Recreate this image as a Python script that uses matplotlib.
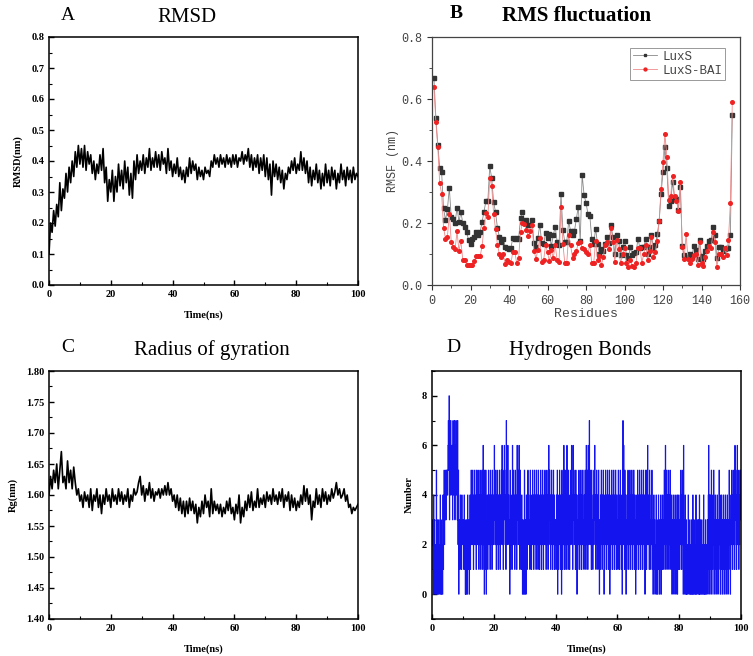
import numpy as np
import matplotlib
matplotlib.use("Agg")
import matplotlib.pyplot as plt
from matplotlib.ticker import MultipleLocator, FormatStrFormatter

## data

# A: RMSD (nm), one value every 0.5 ns from 0 to 100 ns
rmsd = [
    0.10, 0.20, 0.17, 0.24, 0.19, 0.26, 0.22, 0.33, 0.24, 0.31,
    0.28, 0.36, 0.30, 0.38, 0.33, 0.40, 0.35, 0.43, 0.38, 0.45,
    0.39, 0.44, 0.38, 0.45, 0.37, 0.43, 0.39, 0.42, 0.36, 0.40,
    0.34, 0.39, 0.36, 0.42, 0.37, 0.44, 0.33, 0.38, 0.27, 0.34,
    0.30, 0.37, 0.27, 0.35, 0.30, 0.39, 0.32, 0.37, 0.31, 0.40,
    0.33, 0.38, 0.29, 0.36, 0.28, 0.40, 0.34, 0.42, 0.36, 0.40,
    0.37, 0.42, 0.36, 0.41, 0.38, 0.44, 0.37, 0.41, 0.38, 0.43,
    0.38, 0.42, 0.37, 0.43, 0.39, 0.41, 0.36, 0.44, 0.37, 0.40,
    0.35, 0.39, 0.36, 0.41, 0.35, 0.38, 0.34, 0.37, 0.33, 0.38,
    0.35, 0.41, 0.36, 0.40, 0.37, 0.39, 0.34, 0.38, 0.35, 0.37,
    0.34, 0.38, 0.36, 0.37, 0.35, 0.40, 0.38, 0.42, 0.39, 0.41,
    0.38, 0.42, 0.39, 0.41, 0.38, 0.42, 0.39, 0.41, 0.38, 0.42,
    0.39, 0.42, 0.38, 0.41, 0.40, 0.43, 0.39, 0.42, 0.40, 0.44,
    0.38, 0.42, 0.37, 0.41, 0.38, 0.42, 0.36, 0.41, 0.37, 0.42,
    0.35, 0.41, 0.34, 0.39, 0.29, 0.40, 0.35, 0.39, 0.34, 0.38,
    0.33, 0.37, 0.31, 0.36, 0.34, 0.38, 0.36, 0.40, 0.37, 0.41,
    0.36, 0.39, 0.37, 0.43, 0.37, 0.41, 0.36, 0.40, 0.33, 0.38,
    0.32, 0.37, 0.34, 0.39, 0.33, 0.37, 0.31, 0.36, 0.32, 0.39,
    0.33, 0.37, 0.32, 0.38, 0.34, 0.37, 0.31, 0.36, 0.33, 0.39,
    0.34, 0.37, 0.32, 0.38, 0.34, 0.37, 0.33, 0.38, 0.34, 0.36,
    0.35,
]

# B: RMSF (nm) per residue 1..156
rmsf_luxs = [
    0.668, 0.540, 0.453, 0.379, 0.363, 0.248, 0.209, 0.244, 0.313, 0.218,
    0.212, 0.200, 0.250, 0.204, 0.235, 0.200, 0.186, 0.170, 0.145, 0.133,
    0.147, 0.156, 0.170, 0.160, 0.170, 0.203, 0.235, 0.270, 0.270, 0.383,
    0.345, 0.268, 0.235, 0.184, 0.156, 0.140, 0.150, 0.124, 0.118, 0.115,
    0.120, 0.152, 0.147, 0.152, 0.150, 0.216, 0.237, 0.203, 0.210, 0.192,
    0.193, 0.210, 0.134, 0.121, 0.152, 0.194, 0.136, 0.131, 0.169, 0.152,
    0.163, 0.126, 0.161, 0.188, 0.140, 0.128, 0.295, 0.177, 0.139, 0.140,
    0.205, 0.174, 0.161, 0.174, 0.214, 0.253, 0.141, 0.356, 0.290, 0.265,
    0.230, 0.222, 0.149, 0.132, 0.182, 0.131, 0.099, 0.115, 0.110, 0.131,
    0.155, 0.134, 0.192, 0.154, 0.101, 0.162, 0.142, 0.097, 0.124, 0.143,
    0.097, 0.086, 0.121, 0.098, 0.102, 0.105, 0.149, 0.120, 0.124, 0.122,
    0.149, 0.100, 0.121, 0.162, 0.118, 0.128, 0.163, 0.205, 0.295, 0.365,
    0.444, 0.376, 0.255, 0.272, 0.331, 0.280, 0.276, 0.243, 0.317, 0.127,
    0.096, 0.091, 0.089, 0.099, 0.091, 0.126, 0.114, 0.085, 0.145, 0.093,
    0.085, 0.110, 0.125, 0.143, 0.145, 0.188, 0.160, 0.086, 0.121, 0.124,
    0.110, 0.115, 0.118, 0.120, 0.160, 0.550,
]
rmsf_bai = [
    0.640, 0.527, 0.446, 0.328, 0.295, 0.185, 0.150, 0.155, 0.228, 0.140,
    0.123, 0.115, 0.173, 0.110, 0.142, 0.080, 0.082, 0.066, 0.065, 0.064,
    0.063, 0.078, 0.093, 0.094, 0.092, 0.125, 0.184, 0.233, 0.218, 0.345,
    0.320, 0.230, 0.180, 0.130, 0.100, 0.090, 0.100, 0.068, 0.080, 0.075,
    0.070, 0.108, 0.108, 0.070, 0.087, 0.172, 0.200, 0.198, 0.178, 0.158,
    0.174, 0.193, 0.110, 0.085, 0.112, 0.153, 0.075, 0.080, 0.130, 0.105,
    0.077, 0.112, 0.087, 0.130, 0.080, 0.075, 0.253, 0.133, 0.070, 0.072,
    0.160, 0.128, 0.088, 0.100, 0.110, 0.135, 0.140, 0.120, 0.115, 0.105,
    0.100, 0.130, 0.070, 0.070, 0.143, 0.080, 0.093, 0.065, 0.090, 0.130,
    0.140, 0.115, 0.185, 0.140, 0.075, 0.145, 0.115, 0.070, 0.100, 0.120,
    0.070, 0.058, 0.080, 0.060, 0.058, 0.070, 0.120, 0.120, 0.072, 0.100,
    0.130, 0.080, 0.110, 0.155, 0.090, 0.108, 0.143, 0.205, 0.310, 0.397,
    0.488, 0.413, 0.274, 0.288, 0.353, 0.286, 0.270, 0.240, 0.333, 0.122,
    0.085, 0.163, 0.085, 0.072, 0.085, 0.097, 0.100, 0.066, 0.140, 0.072,
    0.060, 0.090, 0.110, 0.125, 0.120, 0.170, 0.140, 0.058, 0.100, 0.100,
    0.090, 0.120, 0.098, 0.145, 0.265, 0.590,
]
residues = np.arange(1, len(rmsf_luxs) + 1)

# C: radius of gyration (nm), one value every 0.5 ns
rg = [
    1.600, 1.630, 1.610, 1.640, 1.620, 1.650, 1.610, 1.640, 1.670, 1.620,
    1.630, 1.610, 1.655, 1.620, 1.640, 1.610, 1.645, 1.620, 1.600, 1.610,
    1.590, 1.600, 1.580, 1.605, 1.590, 1.600, 1.580, 1.610, 1.575, 1.600,
    1.590, 1.610, 1.580, 1.600, 1.570, 1.600, 1.585, 1.610, 1.590, 1.600,
    1.580, 1.610, 1.590, 1.600, 1.585, 1.610, 1.590, 1.605, 1.585, 1.600,
    1.590, 1.610, 1.580, 1.600, 1.590, 1.610, 1.600, 1.605, 1.620, 1.630,
    1.600, 1.615, 1.590, 1.610, 1.600, 1.620, 1.595, 1.610, 1.590, 1.605,
    1.600, 1.610, 1.595, 1.610, 1.600, 1.615, 1.600, 1.620, 1.600, 1.610,
    1.590, 1.600, 1.580, 1.600, 1.575, 1.595, 1.570, 1.590, 1.565, 1.590,
    1.570, 1.595, 1.575, 1.590, 1.570, 1.585, 1.555, 1.580, 1.565, 1.590,
    1.570, 1.600, 1.580, 1.590, 1.565, 1.610, 1.570, 1.590, 1.575, 1.585,
    1.570, 1.585, 1.565, 1.580, 1.570, 1.590, 1.575, 1.595, 1.570, 1.580,
    1.560, 1.585, 1.570, 1.600, 1.555, 1.580, 1.565, 1.590, 1.575, 1.600,
    1.580, 1.605, 1.575, 1.590, 1.580, 1.610, 1.580, 1.595, 1.585, 1.600,
    1.580, 1.605, 1.590, 1.600, 1.585, 1.610, 1.590, 1.600, 1.585, 1.605,
    1.590, 1.610, 1.580, 1.600, 1.590, 1.605, 1.575, 1.600, 1.580, 1.595,
    1.575, 1.590, 1.580, 1.600, 1.585, 1.615, 1.590, 1.610, 1.585, 1.600,
    1.560, 1.590, 1.580, 1.610, 1.585, 1.600, 1.580, 1.610, 1.590, 1.605,
    1.585, 1.600, 1.590, 1.610, 1.595, 1.605, 1.620, 1.600, 1.610, 1.595,
    1.600, 1.610, 1.590, 1.600, 1.580, 1.585, 1.570, 1.580, 1.575, 1.580,
    1.585,
]

# D: number of hydrogen bonds, one value every 0.125 ns (each row = 5 ns)
hbond_rows = [
    "2310403120 1503201302 1403012041 3524353545",
    "4675836476 5463746573 6475437250 2314231423",
    "2314130203 1042130241 3524253142 5324153425",
    "3142531425 3162405315 0324135243 1524315342",
    "2635241352 3142531425 3625143652 4173526342",
    "3051423162 5243152431 6352463152 3142031025",
    "0310421352 4231524132 5241352431 5234152413",
    "2531425314 2352413524 1363524135 2413524132",
    "3142503142 5314205314 2631524136 2415231425",
    "3624163524 3152403142 5314253142 5231425316",
    "2531642735 2415231425 3624135241 3520314253",
    "1425301425 3142531425 0314253142 5314253142",
    "3152413524 1305726315 2403142531 4253142531",
    "4253142031 4253142531 4253142531 4025315263",
    "2415231425 3102413021 4031024130 2140312413",
    "2531625314 2531425314 2031420314 2031402413",
    "3142531425 0613041030 2104120310 2031040130",
    "2104021301 3040310230 1204102031 0213046140",
    "2415031425 0314203142 0315240314 2031420314",
    "2031420315 2401325314 2531635214 6253142535",
]
hbonds = [int(c) for row in hbond_rows for c in "".join(row.split())]

t_half = np.arange(len(rmsd)) * 0.5
t_hb = np.arange(len(hbonds)) * 0.125

## figure
W, H = 753, 656
fig = plt.figure(figsize=(W / 100, H / 100), dpi=100)


def box(left, top, right, bottom):
    return [left / W, 1 - bottom / H, (right - left) / W, (bottom - top) / H]


serif = "Liberation Serif"
mono = "Liberation Mono"


def md_style(ax, xlabel, ylabel):
    ax.tick_params(which="both", direction="in", top=False, right=False)
    ax.tick_params(which="major", length=3.5, width=1.0)
    ax.tick_params(which="minor", length=2, width=0.8)
    for s in ax.spines.values():
        s.set_linewidth(1.1)
    for lbl in ax.get_xticklabels() + ax.get_yticklabels():
        lbl.set_fontfamily(serif)
        lbl.set_fontweight("bold")
        lbl.set_fontsize(7.5)
    ax.set_xlabel(xlabel, fontfamily=serif, fontweight="bold", fontsize=7.5, labelpad=8)
    ax.set_ylabel(ylabel, fontfamily=serif, fontweight="bold", fontsize=7.5, labelpad=6)


# A
axA = fig.add_axes(box(49, 37, 358, 285))
axA.plot(t_half, rmsd, color="black", lw=1.2)
axA.set_xlim(0, 100)
axA.set_ylim(0, 0.8)
axA.xaxis.set_major_locator(MultipleLocator(20))
axA.xaxis.set_minor_locator(MultipleLocator(10))
axA.yaxis.set_major_locator(MultipleLocator(0.1))
axA.yaxis.set_minor_locator(MultipleLocator(0.05))
axA.yaxis.set_major_formatter(FormatStrFormatter("%.1f"))
md_style(axA, "Time(ns)", "RMSD(nm)")

# C
axC = fig.add_axes(box(49, 371, 358, 619))
axC.plot(t_half, rg, color="black", lw=1.2)
axC.set_xlim(0, 100)
axC.set_ylim(1.40, 1.80)
axC.xaxis.set_major_locator(MultipleLocator(20))
axC.xaxis.set_minor_locator(MultipleLocator(10))
axC.yaxis.set_major_locator(MultipleLocator(0.05))
axC.yaxis.set_minor_locator(MultipleLocator(0.025))
axC.yaxis.set_major_formatter(FormatStrFormatter("%.2f"))
md_style(axC, "Time(ns)", "Rg(nm)")

# D
axD = fig.add_axes(box(432, 371, 741, 619))
axD.plot(t_hb, hbonds, color="#1414ee", lw=0.7, drawstyle="steps-post")
axD.set_xlim(0, 100)
axD.set_ylim(-1, 9)
axD.xaxis.set_major_locator(MultipleLocator(20))
axD.xaxis.set_minor_locator(MultipleLocator(10))
axD.yaxis.set_major_locator(MultipleLocator(2))
axD.yaxis.set_minor_locator(MultipleLocator(1))
md_style(axD, "Time(ns)", "Number")

# B
axB = fig.add_axes(box(432, 37, 740, 285))
axB.plot(residues, rmsf_luxs, color="#888888", lw=0.6, marker="s", ms=2.5,
         mfc="#333333", mec="#333333", label="LuxS")
axB.plot(residues, rmsf_bai, color="#f08a8a", lw=0.6, marker="o", ms=2.6,
         mfc="#ee2222", mec="#ee2222", label="LuxS-BAI")
axB.set_xlim(0, 160)
axB.set_ylim(0, 0.8)
axB.xaxis.set_major_locator(MultipleLocator(20))
axB.xaxis.set_minor_locator(MultipleLocator(10))
axB.yaxis.set_major_locator(MultipleLocator(0.2))
axB.yaxis.set_minor_locator(MultipleLocator(0.1))
axB.yaxis.set_major_formatter(FormatStrFormatter("%.1f"))
axB.tick_params(which="both", direction="out", colors="#333333", top=False, right=False)
axB.tick_params(which="major", length=3.5)
axB.tick_params(which="minor", length=2)
for s in axB.spines.values():
    s.set_color("#444444")
    s.set_linewidth(0.9)
for lbl in axB.get_xticklabels() + axB.get_yticklabels():
    lbl.set_fontfamily(mono)
    lbl.set_fontsize(8.5)
    lbl.set_color("#444444")
axB.set_xlabel("Residues", fontfamily=mono, fontsize=9.5, color="#444444", labelpad=1)
axB.set_ylabel("RMSF (nm)", fontfamily=mono, fontsize=8.5, color="#444444", labelpad=2)
leg = axB.legend(loc="upper right", bbox_to_anchor=(0.952, 0.957), fancybox=False,
                 edgecolor="#999999", prop={"family": mono, "size": 9},
                 handlelength=1.9, handletextpad=0.4, borderpad=0.25,
                 labelspacing=0.15, borderaxespad=0, markerscale=0.8, framealpha=1)
leg.get_frame().set_linewidth(0.7)
for txt in leg.get_texts():
    txt.set_color("#444444")

# panel letters and titles
fig.text(68 / W, 1 - 15 / H, "A", fontfamily=serif, fontsize=14, ha="center", va="center")
fig.text(187 / W, 1 - 17 / H, "RMSD", fontfamily=serif, fontsize=15, ha="center", va="center")
fig.text(456 / W, 1 - 14 / H, "B", fontfamily=serif, fontsize=14, fontweight="bold",
         ha="center", va="center")
fig.text(577 / W, 1 - 16 / H, "RMS fluctuation", fontfamily=serif, fontsize=15,
         fontweight="bold", ha="center", va="center")
fig.text(68 / W, 1 - 347 / H, "C", fontfamily=serif, fontsize=14, ha="center", va="center")
fig.text(212 / W, 1 - 350 / H, "Radius of gyration", fontfamily=serif, fontsize=15,
         ha="center", va="center")
fig.text(453 / W, 1 - 347 / H, "D", fontfamily=serif, fontsize=14, ha="center", va="center")
fig.text(580 / W, 1 - 350 / H, "Hydrogen Bonds", fontfamily=serif, fontsize=15,
         ha="center", va="center")

fig.savefig("out.png", dpi=100)
